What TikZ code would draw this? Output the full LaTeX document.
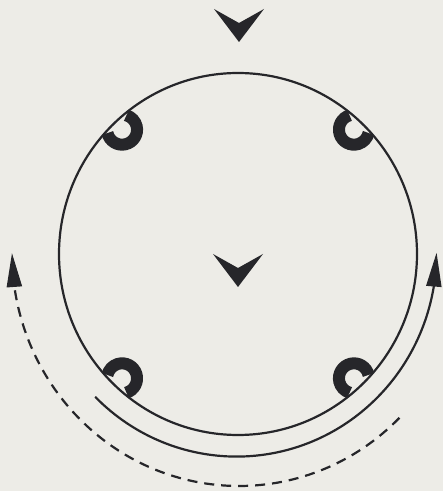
\documentclass[tikz,border=0pt]{standalone}
\usepackage{tikz}
\usetikzlibrary{arrows.meta,bending}
\definecolor{paper}{RGB}{237,236,231}
\definecolor{ink}{RGB}{38,38,42}

\begin{document}
\begin{tikzpicture}[x=1pt,y=1pt,line width=2.2pt,
  hook/.pic={\draw[ink,line width=12pt] (60:15pt) arc[start angle=60,end angle=300,radius=15pt];},
  chevron/.pic={\fill[ink] (-25,0) -- (0,-14) -- (25,0) -- (0,-33) -- cycle;},
  tip/.style={-{Triangle[length=34pt,width=15pt]}}]
\fill[paper] (0,0) rectangle (443,491);
\useasboundingbox (0,0) rectangle (443,491);
\coordinate (ctr) at (238,237);
% ring with the four hooks
\draw[ink] (ctr) ellipse[x radius=179pt,y radius=181pt];
\foreach \a in {47,133,227,313}
  \path (ctr) ++(\a:170pt) pic[rotate=\a] {hook};
% markers
\pic at (239,482) {chevron};
\pic at (238,237) {chevron};
% rotation arrows
\draw[ink,tip] (ctr) ++(225:202pt) arc[start angle=225,end angle=360,x radius=200pt,y radius=204pt];
\draw[ink,tip,dash pattern=on 10pt off 7pt] (ctr) ++(-45.4:230pt) arc[start angle=-45,end angle=-180,x radius=227pt,y radius=233pt];
\end{tikzpicture}
\end{document}
